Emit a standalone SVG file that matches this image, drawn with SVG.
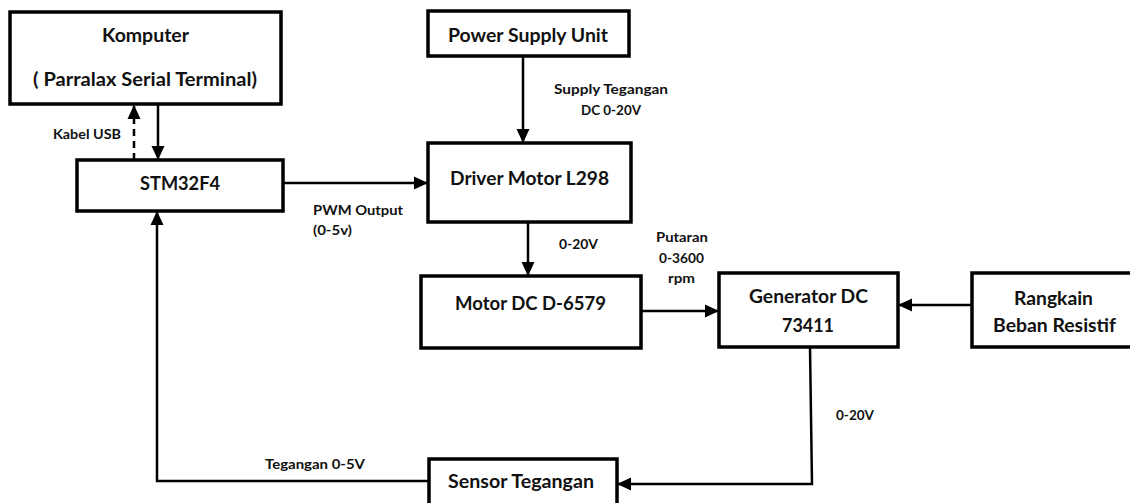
<svg xmlns="http://www.w3.org/2000/svg" width="1130" height="503" viewBox="0 0 1130 503">
<style>
.box{fill:#fff;stroke:#000;stroke-width:3.5}
.ln{fill:none;stroke:#000;stroke-width:2.5}
.dash{stroke-dasharray:7 5}
.t{font-family:Lato,"Open Sans","Liberation Sans",sans-serif;font-weight:bold;font-size:18.5px;fill:#111;text-anchor:middle}
.s{font-family:Lato,"Open Sans","Liberation Sans",sans-serif;font-weight:bold;font-size:13.5px;fill:#111}
</style>
<defs>
<marker id="ah" markerUnits="userSpaceOnUse" markerWidth="14" markerHeight="14" viewBox="0 0 14 14" refX="13" refY="7" orient="auto">
<path d="M0,0.5 L14,7 L0,13.5 Z" fill="#000"/>
</marker>
</defs>
<g id="connectors">
<line class="ln dash" x1="134" y1="160" x2="134" y2="106" marker-end="url(#ah)"/>
<line class="ln" x1="158" y1="105" x2="158" y2="159" marker-end="url(#ah)"/>
<line class="ln" x1="283" y1="183" x2="427" y2="183" marker-end="url(#ah)"/>
<line class="ln" x1="523" y1="56" x2="523" y2="142" marker-end="url(#ah)"/>
<line class="ln" x1="528" y1="222" x2="528" y2="275" marker-end="url(#ah)"/>
<line class="ln" x1="641" y1="311" x2="718" y2="311" marker-end="url(#ah)"/>
<line class="ln" x1="972" y1="305" x2="899" y2="305" marker-end="url(#ah)"/>
<polyline class="ln" points="810,347 812,484 618,484" marker-end="url(#ah)"/>
<polyline class="ln" points="429,481 157,481 157,212" marker-end="url(#ah)"/>
</g>
<g id="komputer">
<rect class="box" x="10" y="12" width="271" height="92"/>
<text class="t" x="145.5" y="42" textLength="87" lengthAdjust="spacingAndGlyphs">Komputer</text>
<text class="t" x="145" y="86" textLength="224" lengthAdjust="spacingAndGlyphs">( Parralax Serial Terminal)</text>
</g>
<g id="stm32f4">
<rect class="box" x="77" y="160" width="206" height="51"/>
<text class="t" x="180" y="190" textLength="80" lengthAdjust="spacingAndGlyphs">STM32F4</text>
</g>
<g id="psu">
<rect class="box" x="428" y="11" width="201" height="45"/>
<text class="t" x="528" y="42" textLength="160" lengthAdjust="spacingAndGlyphs">Power Supply Unit</text>
</g>
<g id="driver">
<rect class="box" x="428" y="143" width="203" height="79"/>
<text class="t" x="529.5" y="185" textLength="159" lengthAdjust="spacingAndGlyphs">Driver Motor L298</text>
</g>
<g id="motor">
<rect class="box" x="421" y="276" width="220" height="72"/>
<text class="t" x="530.5" y="310" textLength="151" lengthAdjust="spacingAndGlyphs">Motor DC D-6579</text>
</g>
<g id="generator">
<rect class="box" x="719" y="273" width="179" height="74"/>
<text class="t" x="808.5" y="303" textLength="119" lengthAdjust="spacingAndGlyphs">Generator DC</text>
<text class="t" x="808" y="332" textLength="52" lengthAdjust="spacingAndGlyphs">73411</text>
</g>
<g id="beban">
<rect class="box" x="972" y="273" width="160" height="74"/>
<text class="t" x="1053.5" y="305" textLength="79" lengthAdjust="spacingAndGlyphs">Rangkain</text>
<text class="t" x="1054.5" y="332" textLength="123" lengthAdjust="spacingAndGlyphs">Beban Resistif</text>
</g>
<g id="sensor">
<rect class="box" x="429" y="459" width="188" height="50"/>
<text class="t" x="521" y="488" textLength="146" lengthAdjust="spacingAndGlyphs">Sensor Tegangan</text>
</g>
<g id="labels">
<text class="s" x="53" y="139" textLength="68" lengthAdjust="spacingAndGlyphs">Kabel USB</text>
<text class="s" x="554" y="94" textLength="114" lengthAdjust="spacingAndGlyphs">Supply Tegangan</text>
<text class="s" x="581" y="115" textLength="60" lengthAdjust="spacingAndGlyphs">DC 0-20V</text>
<text class="s" x="313" y="215" textLength="90" lengthAdjust="spacingAndGlyphs">PWM Output</text>
<text class="s" x="313" y="235" textLength="39" lengthAdjust="spacingAndGlyphs">(0-5v)</text>
<text class="s" x="559" y="249" textLength="39" lengthAdjust="spacingAndGlyphs">0-20V</text>
<text class="s" x="656" y="242" textLength="52" lengthAdjust="spacingAndGlyphs">Putaran</text>
<text class="s" x="659" y="263" textLength="45" lengthAdjust="spacingAndGlyphs">0-3600</text>
<text class="s" x="668" y="283" textLength="27" lengthAdjust="spacingAndGlyphs">rpm</text>
<text class="s" x="836" y="420" textLength="38" lengthAdjust="spacingAndGlyphs">0-20V</text>
<text class="s" x="265" y="469" textLength="100" lengthAdjust="spacingAndGlyphs">Tegangan 0-5V</text>
</g>
</svg>
